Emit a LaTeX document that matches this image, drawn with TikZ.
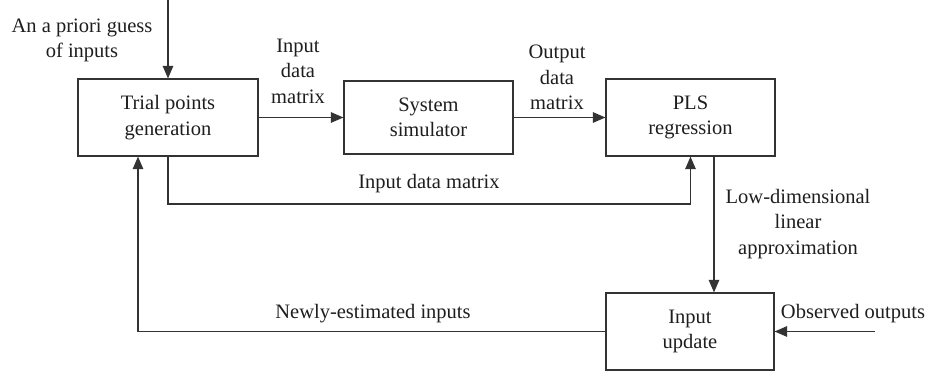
\documentclass[tikz,border=0pt]{standalone}
\usepackage{fontspec}
\setmainfont{Liberation Serif}
\usetikzlibrary{arrows.meta,calc}
\definecolor{ln}{HTML}{333333}
\definecolor{tx}{HTML}{1e1e1e}
\begin{document}
\begin{tikzpicture}[x=1pt,y=-1pt,
  every node/.style={font=\fontsize{20.5}{25.5}\selectfont, text=tx},
  blk/.style={draw=ln, line width=1.2pt, align=center, inner sep=0pt},
  lbl/.style={align=center, inner sep=0pt},
  arr/.style={draw=ln, line width=1.2pt, -{Triangle[length=12.5pt,width=10.5pt]}}]
\useasboundingbox (0,0) rectangle (932,377);
% boxes
\node[blk, minimum width=180pt, minimum height=77pt] (trial) at (168,117.5) {Trial points\\generation};
\node[blk, minimum width=169pt, minimum height=73pt] (sim) at (428.5,117.5) {System\\simulator};
\node[blk, minimum width=169pt, minimum height=77pt] (pls) at (690.5,117.5) {PLS\\regression};
\node[blk, minimum width=168pt, minimum height=77pt] (upd) at (690,331.5) {Input\\update};
% labels
\node[lbl, anchor=north] (l1) at (82,18.5) {An a priori guess\\of inputs};
\node[lbl, anchor=north] (l2) at (298,38.5) {Input\\data\\matrix};
\node[lbl, anchor=north] (l3) at (557,45) {Output\\data\\matrix};
\node[lbl, anchor=base] (l4) at (429,189) {Input data matrix};
\node[lbl, anchor=north] (l5) at (798,189) {Low-dimensional\\linear\\approximation};
\node[lbl, anchor=base] (l6) at (853,318) {Observed outputs};
\node[lbl, anchor=base] (l7) at (373,318) {Newly-estimated inputs};
% coordinates
\coordinate (top) at (168,0);
\coordinate (row) at (0,204);
\coordinate (dx) at (714,0);
\coordinate (obs) at (875,331.5);
\coordinate (fb) at (138,0);
% connectors
\draw[arr] (top) -- (trial.north);
\draw[arr] (trial.east) -- (sim.west);
\draw[arr] (sim.east) -- (pls.west);
\draw[arr] (trial.south) |- (row -| pls.south) -- (pls.south);
\draw[arr] (pls.south -| dx) -- (upd.north -| dx);
\draw[arr] (obs) -- (upd.east);
\draw[arr] (upd.west) -| (trial.south -| fb);
\end{tikzpicture}
\end{document}
